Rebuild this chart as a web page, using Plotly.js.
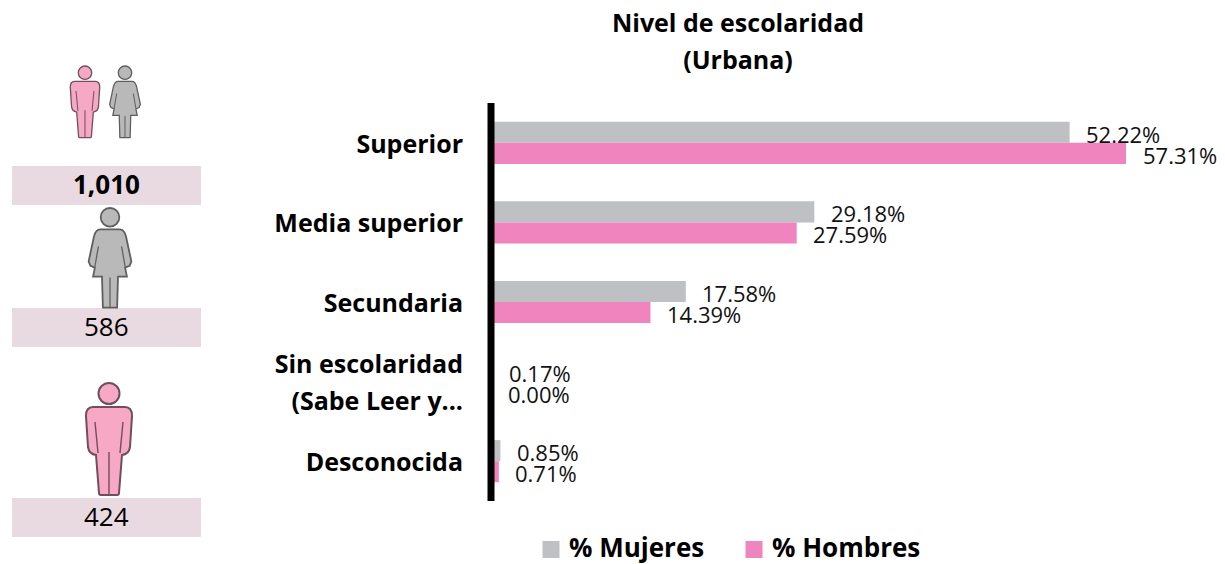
<!DOCTYPE html>
<html><head><meta charset="utf-8">
<script src="https://cdn.plot.ly/plotly-3.0.1.min.js"></script>
<style>html,body{margin:0;padding:0;background:#fff}#c{width:1225px;height:564px}</style></head>
<body><div id="c"></div>
<script>
const categories = ['Superior','Media superior','Secundaria','Sin escolaridad<br>(Sabe Leer y...','Desconocida'];
const mujeres = [52.22,29.18,17.58,0.17,0.85];
const hombres = [57.31,27.59,14.39,0.00,0.71];
const seriesNames = ['% Mujeres','% Hombres'];
const totals = ['1,010','586','424'];
const titleLines = ['Nivel de escolaridad','(Urbana)'];

const W=1225,H=564,F='"Open Sans", sans-serif';
const GRAY='#bfc0c4',PINK='#f084bf';
const shapes=[],annotations=[];
const ov={xref:'paper',yref:'paper'};
const X=v=>v/W, Y=v=>1-v/H;

function figure(kind,cx,top,s){
  const fill=kind==='m'?'#f7a8c4':'#b9b9b9', stroke=kind==='m'?'#6f4f5c':'#5e5e5e';
  const P=(x,y)=>X(cx+x*s).toFixed(5)+','+Y(top+y*s).toFixed(5);
  const line={color:stroke,width:Math.max(1.2,2*s)};
  shapes.push({type:'circle',...ov,x0:X(cx-10.5*s),x1:X(cx+10.5*s),y0:Y(top),y1:Y(top+21*s),fillcolor:fill,line});
  let body,inner;
  if(kind==='m'){
    body=`M${P(-16,24)} L${P(16,24)} Q${P(23,24)} ${P(23,33)} L${P(21,64)} Q${P(20,71)} ${P(13,72)} L${P(10,110)} Q${P(10,112)} ${P(8,112)} L${P(-8,112)} Q${P(-10,112)} ${P(-10,110)} L${P(-13,72)} Q${P(-20,71)} ${P(-21,64)} L${P(-23,33)} Q${P(-23,24)} ${P(-16,24)} Z`;
    inner=`M${P(-14,39)} L${P(-11,70)} M${P(14,39)} L${P(11,70)} M${P(0,69)} L${P(0,112)}`;
  }else{
    body=`M${P(-11,24)} L${P(11,24)} Q${P(16,24)} ${P(18,32)} L${P(24,60)} L${P(22,65)} L${P(17,67)} L${P(19,77)} L${P(9,77)} L${P(8,112)} L${P(-8,112)} L${P(-9,77)} L${P(-19,77)} L${P(-17,67)} L${P(-22,65)} L${P(-24,60)} L${P(-18,32)} Q${P(-16,24)} ${P(-11,24)} Z`;
    inner=`M${P(-13,43)} L${P(-17,66)} M${P(13,43)} L${P(17,66)} M${P(0,78)} L${P(0,112)}`;
  }
  shapes.push({type:'path',...ov,path:body,fillcolor:fill,line});
  shapes.push({type:'path',...ov,path:inner,line:{color:stroke,width:Math.max(1,1.4*s)}});
}
figure('m',85,66,0.64); figure('f',125,66,0.64);
figure('f',110,208,0.89); figure('m',109,383,1);

const boxes=[[166,205],[308,347],[498,537]];
boxes.forEach((b,i)=>{
  shapes.push({type:'rect',...ov,x0:X(12),x1:X(201),y0:Y(b[0]),y1:Y(b[1]),fillcolor:'#e8dae0',line:{width:0},layer:'below'});
  annotations.push({...ov,x:X(106.5),y:Y((b[0]+b[1])/2),yshift:2,text:i===0?'<b>'+totals[i]+'</b>':totals[i],showarrow:false,xanchor:'center',yanchor:'middle',font:{family:F,size:26,color:'#000'}});
});

const px0=491,pxPerUnit=(1126-px0)/57.31,xMax=(W-px0)/pxPerUnit;
// thick vertical rule centred on zero, over the bars
shapes.push({type:'line',...ov,x0:X(px0),x1:X(px0),y0:Y(103),y1:Y(501),line:{color:'#000',width:7}});

[[mujeres,-9],[hombres,12]].forEach(([vals,dy])=>{
  vals.forEach((v,i)=>{
    annotations.push({xref:'x',yref:'y',x:v,y:categories[i],text:v.toFixed(2)+'%',showarrow:false,xanchor:'left',yanchor:'middle',
      xshift:14.5,yshift:-dy,font:{family:F,size:22,color:'#111'}});
  });
});
const span=(t,s)=>'<span style="font-size:'+s+'px">'+t+'</span>';
const bar=(name,x,color)=>({type:'bar',orientation:'h',name:span(name,26),x,y:categories,marker:{color,line:{width:0}},hoverinfo:'skip'});
const traces=[bar(seriesNames[0],mujeres,GRAY),bar(seriesNames[1],hombres,PINK)];
const layout={
  width:W,height:H,margin:{l:0,r:0,t:0,b:0},paper_bgcolor:'#fff',plot_bgcolor:'rgba(0,0,0,0)',
  barmode:'group',bargap:0.47,bargroupgap:0,showlegend:true,
  font:{family:F,color:'#000'},
  title:{text:'<b>'+titleLines.map(t=>span(t,25)).join('<br>')+'</b>',font:{family:F,size:28.5,color:'#000'},x:738/W,xanchor:'center',y:1-32/H,yanchor:'middle'},
  xaxis:{domain:[px0/W,1],range:[0,xMax],visible:false,fixedrange:true},
  yaxis:{domain:[1-501/H,1-103/H],autorange:false,range:[4.5,-0.5],type:'category',categoryorder:'array',categoryarray:categories,
    tickmode:'array',tickvals:categories,ticktext:categories.map(c=>c.split('<br>').map(t=>span(t,25)).join('<br>')),
    showline:false,ticks:'',ticklabelstandoff:27,showgrid:false,zeroline:false,
    tickfont:{family:F,size:28.5,color:'#000',weight:700},fixedrange:true},
  legend:{orientation:'h',x:529/W,xanchor:'left',y:0,yanchor:'bottom',entrywidth:158,entrywidthmode:'pixels',font:{family:F,size:10,color:'#000',weight:700},bgcolor:'rgba(0,0,0,0)',traceorder:'normal'},
  shapes,annotations
};
Plotly.newPlot('c',traces,layout,{displayModeBar:false,staticPlot:true}).then(()=>{
  document.querySelectorAll('.legend .legendpoints path').forEach(p=>p.setAttribute('d','M10.5,8.5H-6.5V-8.5H10.5Z'));
  document.querySelectorAll('.legend .legendtext').forEach(t=>t.setAttribute('transform','translate(0,4)'));
});
</script></body></html>
